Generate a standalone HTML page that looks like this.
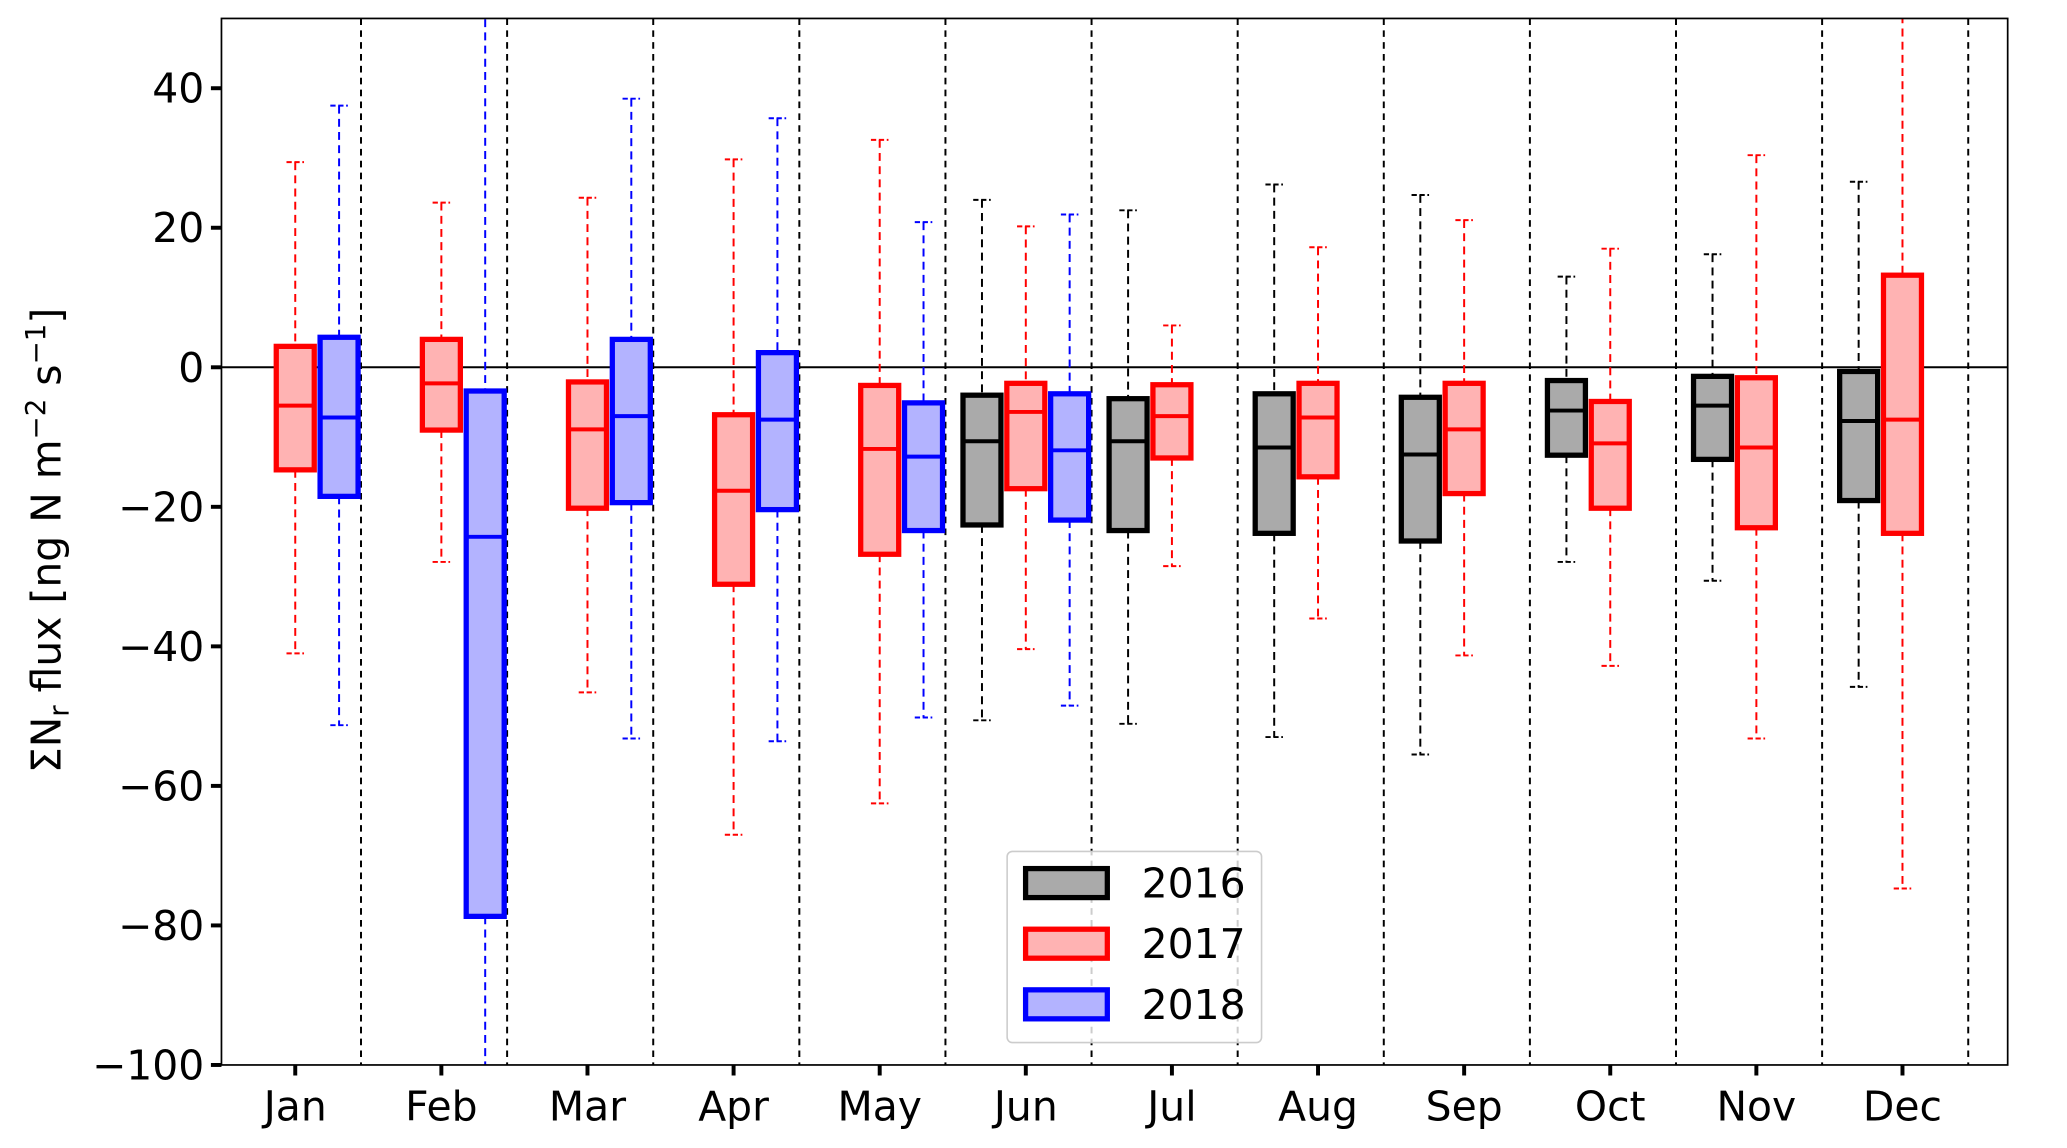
<!DOCTYPE html>
<html><head><meta charset="utf-8"><style>
html,body{margin:0;padding:0;background:#fff;}
svg{display:block;font-family:"DejaVu Sans","Liberation Sans",sans-serif;}
</style></head><body>
<svg id="chart" width="2067" height="1148" viewBox="0 0 1568 871" preserveAspectRatio="none" xmlns="http://www.w3.org/2000/svg">
<g id="plot"></g>
</svg>
<script>
const months = ["Jan","Feb","Mar","Apr","May","Jun","Jul","Aug","Sep","Oct","Nov","Dec"];
const yTicks = [40,20,0,-20,-40,-60,-80,-100];
const years = ["2016","2017","2018"];
// each entry: [whiskerLow, q1, median, q3, whiskerHigh] or null
const s2016 = [null,null,null,null,null,
 [-50.6,-22.6,-10.6,-4,24],[-51.1,-23.4,-10.6,-4.5,22.5],[-53,-23.8,-11.5,-3.8,26.2],
 [-55.5,-24.9,-12.5,-4.3,24.7],[-27.9,-12.6,-6.2,-1.9,13],[-30.6,-13.2,-5.5,-1.3,16.2],[-45.8,-19.1,-7.7,-0.6,26.6]];
const s2017 = [[-41,-14.7,-5.5,3,29.4],[-27.9,-9,-2.3,4,23.6],[-46.6,-20.2,-8.9,-2.1,24.3],
 [-67,-31.1,-17.7,-6.8,29.8],[-62.5,-26.8,-11.7,-2.6,32.6],[-40.4,-17.4,-6.4,-2.3,20.2],
 [-28.5,-13,-7,-2.5,6],[-36,-15.7,-7.2,-2.3,17.2],[-41.3,-18.1,-8.9,-2.3,21.1],
 [-42.8,-20.2,-10.9,-4.9,17],[-53.2,-23,-11.5,-1.5,30.4],[-74.7,-23.8,-7.5,13.2,58]];
const s2018 = [[-51.3,-18.5,-7.2,4.3,37.5],[-115,-78.7,-24.3,-3.4,65],[-53.2,-19.4,-7,4,38.5],
 [-53.6,-20.4,-7.5,2.1,35.7],[-50.2,-23.4,-12.8,-5.1,20.8],[-48.5,-21.9,-11.9,-3.8,21.9],
 null,null,null,null,null,null];

const L=168,R=1523,T=14,B=808;
const yMin=-100,yMax=50, xMin=-0.505, xMax=11.72;
const X=v=>L+(v-xMin)/(xMax-xMin)*(R-L);
const Y=v=>B-(v-yMin)/(yMax-yMin)*(B-T);
const NS="http://www.w3.org/2000/svg";
const g=document.getElementById('plot');
function mk(tag,attrs,parent){const e=document.createElementNS(NS,tag);for(const k in attrs)e.setAttribute(k,attrs[k]);(parent||g).appendChild(e);return e;}

const defs=mk('defs',{});
const cp=mk('clipPath',{id:'clip'},defs);
mk('rect',{x:L,y:T,width:R-L,height:B-T},cp);
const inner=mk('g',{'clip-path':'url(#clip)'});

months.forEach((m,i)=>{
  const sep=mk('line',{x1:X(i+0.45),x2:X(i+0.45),y1:T,y2:B,stroke:'#000','stroke-width':1.5,'stroke-dasharray':'5,4'},inner);
  
  
});
const zl=mk('line',{x1:L,x2:R,y1:Y(0),y2:Y(0),stroke:'#000','stroke-width':1.5},inner);



const series=[{d:s2016,off:-0.3,edge:'#000',fill:'#aaaaaa',y:'2016'},
 {d:s2017,off:0,edge:'#ff0000',fill:'#ffb3b3',y:'2017'},
 {d:s2018,off:0.3,edge:'#0000ff',fill:'#b3b3ff',y:'2018'}];
const bw=0.26, cw=0.06;
series.forEach(s=>{
  s.d.forEach((v,i)=>{
    if(!v)return;
    const cx=X(i+s.off);
    const grp=mk('g',{},inner);
    
    
    const w=bw*(R-L)/(xMax-xMin), c=cw*(R-L)/(xMax-xMin);
    mk('line',{x1:cx,x2:cx,y1:Y(v[4]),y2:Y(v[3]),stroke:s.edge,'stroke-width':1.5,'stroke-dasharray':'6,4'},grp);
    mk('line',{x1:cx,x2:cx,y1:Y(v[1]),y2:Y(v[0]),stroke:s.edge,'stroke-width':1.5,'stroke-dasharray':'6,4'},grp);
    mk('line',{x1:cx-c,x2:cx+c,y1:Y(v[4]),y2:Y(v[4]),stroke:s.edge,'stroke-width':1.5,'stroke-dasharray':'4,2'},grp);
    mk('line',{x1:cx-c,x2:cx+c,y1:Y(v[0]),y2:Y(v[0]),stroke:s.edge,'stroke-width':1.5,'stroke-dasharray':'4,2'},grp);
    mk('rect',{x:cx-w/2,y:Y(v[3]),width:w,height:Y(v[1])-Y(v[3]),fill:s.fill,stroke:s.edge,'stroke-width':4},grp);
    mk('line',{x1:cx-w/2,x2:cx+w/2,y1:Y(v[2]),y2:Y(v[2]),stroke:s.edge,'stroke-width':3},grp);
  });
});

const fr=mk('rect',{x:L,y:T,width:R-L,height:B-T,fill:'none',stroke:'#000','stroke-width':1.3});



yTicks.forEach(t=>{
  mk('line',{x1:L-8,x2:L,y1:Y(t),y2:Y(t),stroke:'#000','stroke-width':3});
  const tx=mk('text',{x:L-13,y:Y(t)+11,'text-anchor':'end','font-size':31,fill:'#000'});
  tx.textContent=(t<0?'\u2212'+(-t):String(t));
  
  
});
months.forEach((m,i)=>{
  mk('line',{x1:X(i),x2:X(i),y1:B,y2:B+8,stroke:'#000','stroke-width':3});
  const tx=mk('text',{x:X(i),y:B+42,'text-anchor':'middle','font-size':31,fill:'#000'});
  tx.textContent=m;
  
  
});

const yt=mk('text',{transform:'translate(46,410) rotate(-90)','text-anchor':'middle','font-size':31,fill:'#000'});


yt.innerHTML='ΣN<tspan font-size="21" dy="6">r</tspan><tspan dy="-6"> flux [ng N m</tspan><tspan font-size="21" dy="-12">−2</tspan><tspan dy="12"> s</tspan><tspan font-size="21" dy="-12">−1</tspan><tspan dy="12">]</tspan>';

const lg=mk('g',{});


mk('rect',{x:764,y:646,width:193,height:145,rx:4,fill:'#fff','fill-opacity':0.8,stroke:'#ccc','stroke-width':1.2},lg);
series.forEach((s,k)=>{
  const cy=670+k*46;
  const e=mk('g',{},lg);
  
  
  mk('rect',{x:778,y:cy-11,width:62,height:22,fill:s.fill,stroke:s.edge,'stroke-width':4},e);
  const t=mk('text',{x:866,y:cy+11,'font-size':31,fill:'#000'},e);
  t.textContent=s.y;
});
</script>
</body></html>
